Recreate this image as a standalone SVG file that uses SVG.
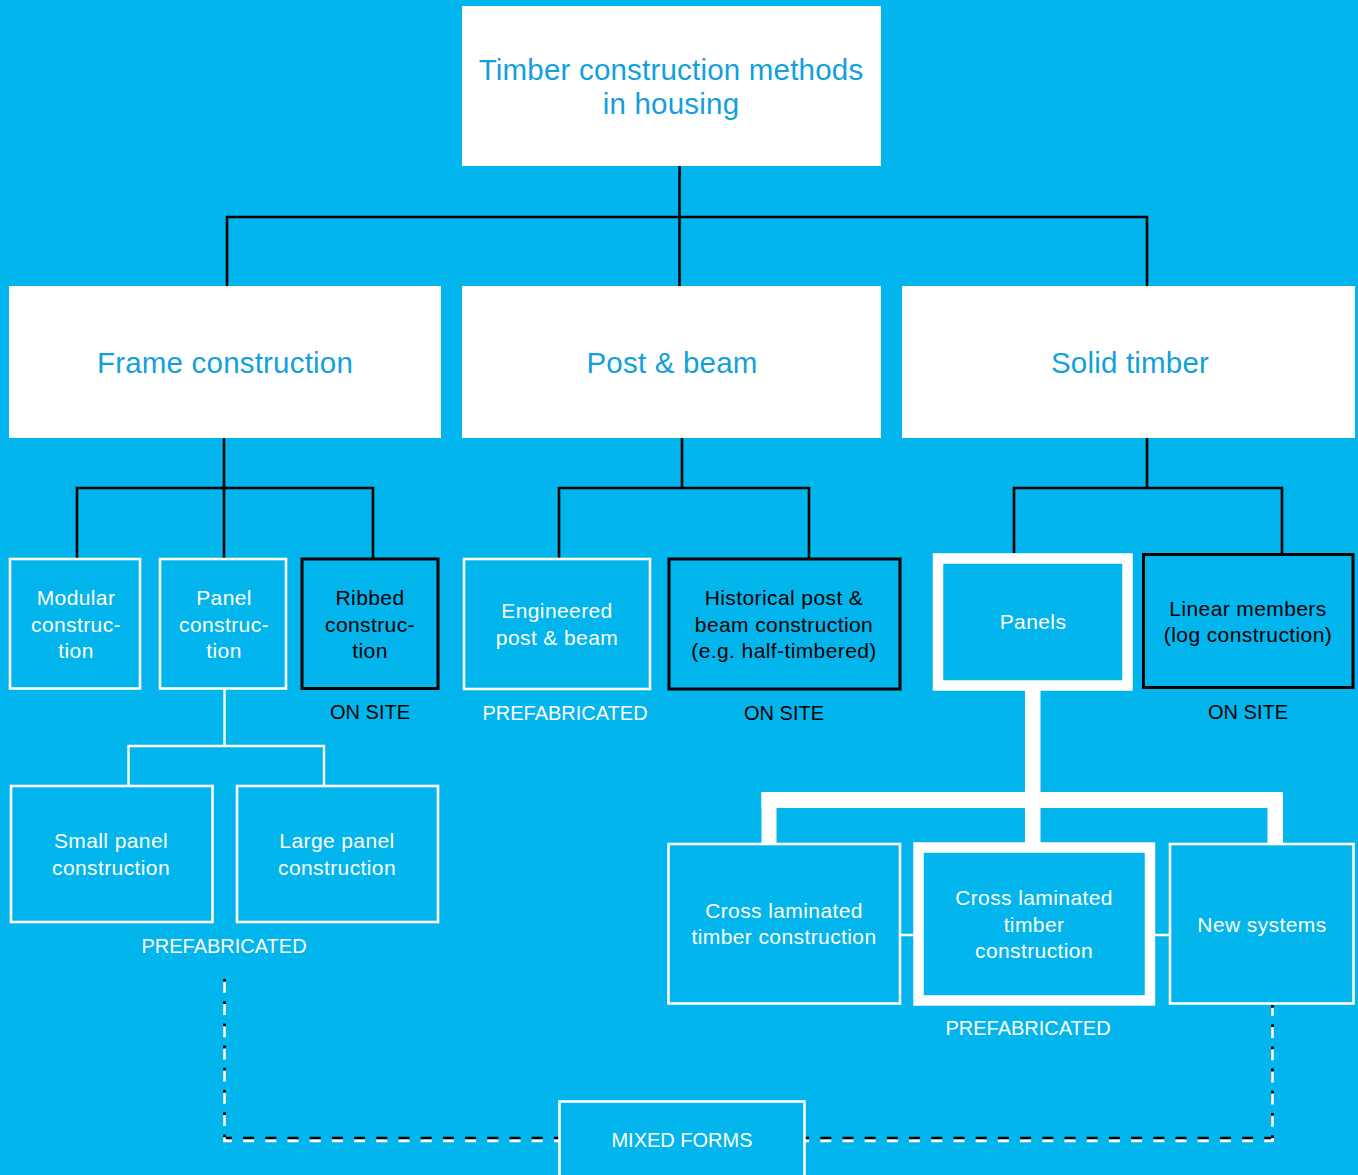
<svg xmlns="http://www.w3.org/2000/svg" width="1358" height="1175" viewBox="0 0 1358 1175">
<style>
text{font-family:"Liberation Sans",Arial,Helvetica,sans-serif;text-anchor:middle}
.h{font-size:29.5px;letter-spacing:0.2px;fill:#129FDC}
.s{font-size:21px;letter-spacing:0.4px}
.c{font-size:20px;letter-spacing:0}
.w{fill:#ffffff}
.k{fill:#000000}
.top{fill:#ffffff;stroke:none}
.wb{fill:none;stroke:#ffffff;stroke-width:2.6}
.kb{fill:none;stroke:#000000;stroke-width:3}
.tb{fill:none;stroke:#ffffff;stroke-width:10.5}
.kc{fill:none;stroke:#000000;stroke-width:2.6}
.wc{fill:none;stroke:#ffffff;stroke-width:2.4}
.wt{fill:#ffffff;stroke:none}
</style>
<rect width="1358" height="1175" fill="#02B5EC"/>

<g id="connectors">
  <path class="kc" d="M679.5,166 V286 M227,286 V217 H1147 V286"/>
  <path class="kc" d="M224,438 V488 M77,558 V488 H373 V558 M224,488 V558"/>
  <path class="kc" d="M682,438 V488 M559,558 V488 H809 V558"/>
  <path class="kc" d="M1147,438 V488 M1014,553 V488 H1282 V556"/>
  <path class="wc" d="M224.5,689 V746 M128.5,785 V746 H324 V785"/>
  <rect class="wt" x="1025" y="690" width="15.5" height="154"/>
  <rect class="wt" x="761.5" y="792" width="521.5" height="16"/>
  <rect class="wt" x="761.5" y="792" width="15" height="52"/>
  <rect class="wt" x="1267.5" y="792" width="15.5" height="52"/>
  <path class="wc" d="M901,935 H914 M1155,935 H1169"/>
  <g id="dashed">
    <path d="M224.5,979 V1138 H1272.5 V1005" fill="none" stroke="#000000" stroke-width="2.7" stroke-dasharray="11 11.2"/>
    <path d="M224.5,979 V1138 H1272.5 V1005" fill="none" stroke="#ffffff" stroke-width="2.7" stroke-dasharray="11 11.2" transform="translate(0,2.8)"/>
  </g>
</g>

<g id="n-root">
  <rect class="top" x="462" y="6" width="419" height="160"/>
  <text class="h" x="671" y="80">Timber construction methods</text>
  <text class="h" x="671" y="114">in housing</text>
</g>
<g id="n-frame">
  <rect class="top" x="9" y="286" width="432" height="152"/>
  <text class="h" x="225" y="373">Frame construction</text>
</g>
<g id="n-postbeam">
  <rect class="top" x="462" y="286" width="419" height="152"/>
  <text class="h" x="672" y="373">Post &amp; beam</text>
</g>
<g id="n-solid">
  <rect class="top" x="902" y="286" width="453" height="152"/>
  <text class="h" x="1130" y="373">Solid timber</text>
</g>

<g id="n-modular">
  <rect class="wb" x="10" y="559" width="130" height="129.5"/>
  <text class="s w" x="76" y="605">Modular</text>
  <text class="s w" x="76" y="632">construc-</text>
  <text class="s w" x="76" y="658">tion</text>
</g>
<g id="n-panel">
  <rect class="wb" x="160" y="559" width="126" height="129.5"/>
  <text class="s w" x="224" y="605">Panel</text>
  <text class="s w" x="224" y="632">construc-</text>
  <text class="s w" x="224" y="658">tion</text>
</g>
<g id="n-ribbed">
  <rect class="kb" x="302" y="559" width="136" height="129.5"/>
  <text class="s k" x="370" y="605">Ribbed</text>
  <text class="s k" x="370" y="632">construc-</text>
  <text class="s k" x="370" y="658">tion</text>
  <text class="c k" x="370" y="719">ON SITE</text>
</g>
<g id="n-engineered">
  <rect class="wb" x="464" y="559" width="186" height="130"/>
  <text class="s w" x="557" y="618">Engineered</text>
  <text class="s w" x="557" y="645">post &amp; beam</text>
  <text class="c w" x="565" y="720">PREFABRICATED</text>
</g>
<g id="n-historical">
  <rect class="kb" x="669" y="559" width="231" height="130"/>
  <text class="s k" x="784" y="605">Historical post &amp;</text>
  <text class="s k" x="784" y="632">beam construction</text>
  <text class="s k" x="784" y="658">(e.g. half-timbered)</text>
  <text class="c k" x="784" y="720">ON SITE</text>
</g>
<g id="n-panels">
  <rect class="tb" x="938" y="558.5" width="189.5" height="127"/>
  <text class="s w" x="1033" y="629">Panels</text>
</g>
<g id="n-linear">
  <rect class="kb" x="1143.5" y="554.5" width="209.5" height="133"/>
  <text class="s k" x="1248" y="616">Linear members</text>
  <text class="s k" x="1248" y="642">(log construction)</text>
  <text class="c k" x="1248" y="719">ON SITE</text>
</g>

<g id="n-small">
  <rect class="wb" x="11" y="786" width="201.5" height="136"/>
  <text class="s w" x="111" y="848">Small panel</text>
  <text class="s w" x="111" y="875">construction</text>
</g>
<g id="n-large">
  <rect class="wb" x="237" y="786" width="201" height="136"/>
  <text class="s w" x="337" y="848">Large panel</text>
  <text class="s w" x="337" y="875">construction</text>
  <text class="c w" x="224" y="953">PREFABRICATED</text>
</g>

<g id="n-clt1">
  <rect class="wb" x="668.5" y="844" width="231.5" height="159.5"/>
  <text class="s w" x="784" y="918">Cross laminated</text>
  <text class="s w" x="784" y="944">timber construction</text>
</g>
<g id="n-clt2">
  <rect class="tb" x="918.5" y="847.5" width="231.5" height="153"/>
  <text class="s w" x="1034" y="905">Cross laminated</text>
  <text class="s w" x="1034" y="932">timber</text>
  <text class="s w" x="1034" y="958">construction</text>
  <text class="c w" x="1028" y="1035">PREFABRICATED</text>
</g>
<g id="n-new">
  <rect class="wb" x="1170" y="844" width="183.5" height="159.5"/>
  <text class="s w" x="1262" y="932">New systems</text>
</g>

<g id="n-mixed">
  <rect x="559.5" y="1101.5" width="245" height="80" fill="#02B5EC" stroke="#ffffff" stroke-width="2.6"/>
  <text class="c w" x="682" y="1147">MIXED FORMS</text>
</g>
</svg>
